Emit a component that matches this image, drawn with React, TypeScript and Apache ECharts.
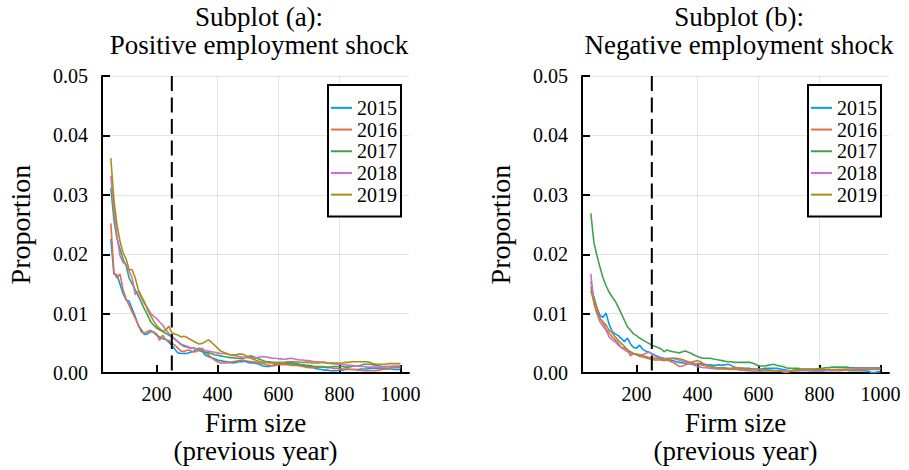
import { useEffect, useRef } from "react";
import * as echarts from "echarts";

// Firm size bins (previous-year employment)
const firmSize = [
  50, 60, 70, 80, 90, 100, 110, 120, 130, 140,
  150, 160, 170, 180, 190, 200, 210, 220, 230, 240,
  250, 260, 270, 280, 290, 300, 310, 320, 330, 340,
  350, 360, 370, 380, 390, 400, 410, 420, 430, 440,
  450, 460, 470, 480, 490, 500, 510, 520, 530, 540,
  550, 560, 570, 580, 590, 600, 610, 620, 630, 640,
  650, 660, 670, 680, 690, 700, 710, 720, 730, 740,
  750, 760, 770, 780, 790, 800, 810, 820, 830, 840,
  850, 860, 870, 880, 890, 900, 910, 920, 930, 940,
  950, 960, 970, 980, 990, 1000,
];

const years = ["2015", "2016", "2017", "2018", "2019"];

// Positive employment shock: share of firms by size
const pos2015 = [
  0.0226, 0.0167, 0.0165, 0.015, 0.0134, 0.0123, 0.0121, 0.0108, 0.0095, 0.008,
  0.0073, 0.0065, 0.0066, 0.007, 0.0069, 0.0064, 0.0061, 0.0058, 0.0057, 0.0052,
  0.0047, 0.004, 0.0034, 0.0033, 0.0033, 0.0033, 0.0035, 0.0036, 0.004, 0.0042,
  0.0037, 0.003, 0.0028, 0.0026, 0.0024, 0.0022, 0.0021, 0.002, 0.0019, 0.0018,
  0.0017, 0.0018, 0.0019, 0.0019, 0.002, 0.0018, 0.0017, 0.0017, 0.0016, 0.0014,
  0.0012, 0.0011, 0.0011, 0.0013, 0.0015, 0.0016, 0.0017, 0.0017, 0.0018, 0.0018,
  0.0017, 0.0016, 0.0014, 0.0013, 0.0012, 0.0011, 0.001, 0.0008, 0.0007, 0.0006,
  0.0005, 0.0005, 0.0004, 0.0004, 0.0004, 0.0005, 0.0005, 0.0006, 0.0006, 0.0006,
  0.0006, 0.0006, 0.0007, 0.0007, 0.0007, 0.0008, 0.0008, 0.0008, 0.0008, 0.0008,
  0.0007, 0.0007, 0.0007, 0.0006, 0.0006, 0.0006,
];
const pos2016 = [
  0.0252, 0.017, 0.016, 0.0167, 0.014, 0.0125, 0.0114, 0.0103, 0.0092, 0.0081,
  0.0069, 0.0067, 0.007, 0.0072, 0.0069, 0.0066, 0.0055, 0.0064, 0.0056, 0.0055,
  0.005, 0.0047, 0.0042, 0.0037, 0.0036, 0.0039, 0.0038, 0.0036, 0.0036, 0.0039,
  0.0042, 0.0034, 0.0031, 0.0026, 0.0022, 0.0019, 0.0017, 0.0017, 0.0017, 0.0018,
  0.0019, 0.002, 0.0021, 0.0022, 0.0021, 0.002, 0.0019, 0.0019, 0.0018, 0.0017,
  0.0016, 0.0014, 0.0013, 0.0012, 0.0013, 0.0014, 0.0014, 0.0014, 0.0014, 0.0013,
  0.0013, 0.0013, 0.0012, 0.0011, 0.001, 0.0009, 0.0009, 0.0009, 0.001, 0.001,
  0.001, 0.0009, 0.0009, 0.0008, 0.0008, 0.0008, 0.0007, 0.0007, 0.0007, 0.0006,
  0.0006, 0.0005, 0.0005, 0.0004, 0.0004, 0.0004, 0.0004, 0.0004, 0.0005, 0.0006,
  0.0007, 0.0008, 0.0009, 0.0009, 0.0009, 0.0009,
];
const pos2017 = [
  0.0312, 0.0259, 0.0226, 0.0209, 0.0192, 0.0181, 0.016, 0.015, 0.014, 0.013,
  0.0119, 0.0108, 0.0098, 0.0087, 0.0081, 0.0076, 0.0073, 0.007, 0.0067, 0.0064,
  0.0061, 0.0057, 0.0053, 0.0048, 0.0045, 0.0044, 0.0042, 0.0042, 0.0041, 0.0038,
  0.0036, 0.0035, 0.0034, 0.0033, 0.0031, 0.003, 0.0029, 0.0028, 0.0027, 0.0026,
  0.0026, 0.0025, 0.0025, 0.0025, 0.0026, 0.0028, 0.0029, 0.0027, 0.0025, 0.0023,
  0.0021, 0.0019, 0.0019, 0.0018, 0.0018, 0.0017, 0.0017, 0.0017, 0.0016, 0.0016,
  0.0015, 0.0015, 0.0014, 0.0014, 0.0013, 0.0013, 0.0012, 0.0011, 0.0011, 0.0011,
  0.001, 0.001, 0.001, 0.0011, 0.0011, 0.0011, 0.0011, 0.001, 0.001, 0.0011,
  0.0012, 0.0012, 0.0013, 0.0015, 0.0015, 0.0015, 0.0014, 0.0013, 0.0012, 0.0011,
  0.0011, 0.0011, 0.0011, 0.0011, 0.0011, 0.0011,
];
const pos2018 = [
  0.0332, 0.0276, 0.0231, 0.0198, 0.0186, 0.0183, 0.0172, 0.016, 0.0132, 0.0137,
  0.0127, 0.0117, 0.011, 0.0101, 0.0096, 0.0092, 0.0086, 0.0081, 0.0073, 0.0067,
  0.0063, 0.0057, 0.0053, 0.0049, 0.0047, 0.0045, 0.0043, 0.0042, 0.0041, 0.004,
  0.0039, 0.0038, 0.0037, 0.0036, 0.0035, 0.0034, 0.0033, 0.0033, 0.0032, 0.0031,
  0.003, 0.0029, 0.0028, 0.0027, 0.0026, 0.0026, 0.0026, 0.0025, 0.0026, 0.0027,
  0.0028, 0.0027, 0.0026, 0.0025, 0.0025, 0.0024, 0.0024, 0.0023, 0.0024, 0.0025,
  0.0024, 0.0023, 0.0022, 0.0022, 0.0021, 0.0021, 0.002, 0.0019, 0.0019, 0.0018,
  0.0018, 0.0017, 0.0016, 0.0016, 0.0015, 0.0015, 0.0014, 0.0014, 0.0013, 0.0013,
  0.0012, 0.0012, 0.0011, 0.0011, 0.001, 0.001, 0.001, 0.001, 0.0009, 0.001,
  0.001, 0.0011, 0.0011, 0.0012, 0.0012, 0.0012,
];
const pos2019 = [
  0.0362, 0.0292, 0.025, 0.0222, 0.0203, 0.0192, 0.0174, 0.0174, 0.016, 0.014,
  0.013, 0.012, 0.0107, 0.0097, 0.0088, 0.008, 0.0075, 0.0071, 0.0072, 0.0079,
  0.0068, 0.0066, 0.0064, 0.0061, 0.0062, 0.006, 0.0057, 0.0054, 0.0051, 0.0049,
  0.005, 0.0053, 0.0056, 0.0052, 0.0047, 0.0042, 0.0037, 0.0035, 0.0033, 0.0031,
  0.0031, 0.0031, 0.0032, 0.0032, 0.003, 0.0027, 0.0025, 0.0023, 0.0021, 0.0019,
  0.0018, 0.0018, 0.0017, 0.0017, 0.0017, 0.0018, 0.0018, 0.0018, 0.0019, 0.0019,
  0.0019, 0.0019, 0.0018, 0.0018, 0.0018, 0.0018, 0.0017, 0.0017, 0.0017, 0.0018,
  0.0018, 0.0017, 0.0017, 0.0017, 0.0017, 0.0017, 0.0017, 0.0018, 0.0018, 0.0019,
  0.0019, 0.0019, 0.0019, 0.0019, 0.0019, 0.0018, 0.0016, 0.0015, 0.0015, 0.0015,
  0.0015, 0.0016, 0.0016, 0.0016, 0.0016, 0.0016,
];

// Negative employment shock: share of firms by size
const neg2015 = [
  0.0145, 0.0128, 0.011, 0.0097, 0.0094, 0.0101, 0.0082, 0.007, 0.0066, 0.0063,
  0.0058, 0.0053, 0.0059, 0.0049, 0.0043, 0.0042, 0.0047, 0.004, 0.0037, 0.0035,
  0.0033, 0.003, 0.0028, 0.0026, 0.0025, 0.0023, 0.0022, 0.0021, 0.0019, 0.0018,
  0.0017, 0.0017, 0.0016, 0.0015, 0.0015, 0.0016, 0.0016, 0.0015, 0.0014, 0.0014,
  0.0013, 0.0013, 0.0014, 0.0013, 0.0014, 0.0015, 0.0013, 0.001, 0.0009, 0.0008,
  0.0008, 0.0008, 0.0008, 0.0007, 0.0007, 0.0007, 0.0007, 0.0008, 0.0008, 0.0008,
  0.0008, 0.0008, 0.0007, 0.0006, 0.0005, 0.0004, 0.0004, 0.0005, 0.0005, 0.0005,
  0.0005, 0.0005, 0.0004, 0.0004, 0.0004, 0.0004, 0.0005, 0.0005, 0.0005, 0.0005,
  0.0005, 0.0005, 0.0005, 0.0005, 0.0005, 0.0004, 0.0004, 0.0004, 0.0004, 0.0004,
  0.0004, 0.0003, 0.0001, 0.0001, 0.0002, 0.0002,
];
const neg2016 = [
  0.0154, 0.0125, 0.0109, 0.0092, 0.0084, 0.0074, 0.0067, 0.0061, 0.0056, 0.005,
  0.0043, 0.0042, 0.004, 0.0029, 0.0033, 0.0031, 0.0028, 0.0027, 0.0026, 0.0024,
  0.0023, 0.0022, 0.0022, 0.0022, 0.0021, 0.0022, 0.002, 0.0018, 0.0015, 0.0011,
  0.0012, 0.0014, 0.0016, 0.0018, 0.002, 0.0021, 0.0019, 0.0016, 0.0013, 0.0011,
  0.001, 0.0009, 0.0009, 0.0009, 0.0009, 0.0008, 0.0008, 0.0009, 0.0009, 0.0009,
  0.0008, 0.0007, 0.0007, 0.0006, 0.0006, 0.0006, 0.0005, 0.0005, 0.0004, 0.0004,
  0.0004, 0.0004, 0.0004, 0.0004, 0.0004, 0.0004, 0.0004, 0.0004, 0.0004, 0.0005,
  0.0005, 0.0005, 0.0006, 0.0006, 0.0006, 0.0006, 0.0006, 0.0005, 0.0005, 0.0004,
  0.0004, 0.0004, 0.0004, 0.0005, 0.0005, 0.0006, 0.0006, 0.0005, 0.0005, 0.0006,
  0.0006, 0.0007, 0.0007, 0.0007, 0.0007, 0.0007,
];
const neg2017 = [
  0.0269, 0.022, 0.0198, 0.0178, 0.016, 0.0147, 0.0136, 0.0128, 0.0121, 0.0111,
  0.01, 0.0089, 0.0078, 0.0072, 0.0066, 0.0063, 0.0059, 0.0056, 0.0053, 0.005,
  0.0047, 0.0045, 0.0043, 0.0041, 0.0036, 0.0039, 0.0037, 0.0036, 0.0035, 0.0034,
  0.0036, 0.0037, 0.0035, 0.0033, 0.003, 0.0028, 0.0026, 0.0025, 0.0025, 0.0025,
  0.0024, 0.0023, 0.0022, 0.0021, 0.002, 0.0019, 0.0019, 0.0018, 0.0018, 0.0018,
  0.0018, 0.0018, 0.0018, 0.0017, 0.0015, 0.0012, 0.0012, 0.0012, 0.0013, 0.0014,
  0.0015, 0.0013, 0.0012, 0.0011, 0.0009, 0.0008, 0.0008, 0.0008, 0.0008, 0.0007,
  0.0007, 0.0007, 0.0007, 0.0007, 0.0007, 0.0008, 0.0008, 0.0009, 0.0009, 0.001,
  0.001, 0.001, 0.001, 0.001, 0.001, 0.0009, 0.0009, 0.0009, 0.0009, 0.0009,
  0.0009, 0.0009, 0.0009, 0.0009, 0.0009, 0.0009,
];
const neg2018 = [
  0.0167, 0.0117, 0.01, 0.0086, 0.0079, 0.0072, 0.0061, 0.0056, 0.0053, 0.0047,
  0.0043, 0.0039, 0.0036, 0.0034, 0.0032, 0.0031, 0.0031, 0.0031, 0.0033, 0.0036,
  0.0032, 0.0029, 0.0026, 0.0025, 0.0024, 0.0025, 0.0025, 0.0025, 0.0023, 0.0022,
  0.002, 0.0019, 0.0017, 0.0015, 0.0013, 0.0011, 0.001, 0.0009, 0.0009, 0.0008,
  0.0008, 0.0007, 0.0007, 0.0007, 0.0007, 0.0006, 0.0006, 0.0006, 0.0006, 0.0005,
  0.0005, 0.0004, 0.0004, 0.0003, 0.0003, 0.0003, 0.0003, 0.0004, 0.0004, 0.0004,
  0.0004, 0.0004, 0.0004, 0.0004, 0.0004, 0.0004, 0.0004, 0.0004, 0.0004, 0.0004,
  0.0004, 0.0004, 0.0004, 0.0003, 0.0003, 0.0003, 0.0003, 0.0004, 0.0004, 0.0005,
  0.0005, 0.0006, 0.0006, 0.0007, 0.0007, 0.0007, 0.0007, 0.0008, 0.0008, 0.0008,
  0.0008, 0.0008, 0.0008, 0.0008, 0.0008, 0.0008,
];
const neg2019 = [
  0.0139, 0.012, 0.0103, 0.0092, 0.0086, 0.0081, 0.0072, 0.0068, 0.0061, 0.0055,
  0.005, 0.0045, 0.0039, 0.0036, 0.0033, 0.0032, 0.0031, 0.0029, 0.0028, 0.0026,
  0.0026, 0.0025, 0.0024, 0.0023, 0.0022, 0.0023, 0.0024, 0.0025, 0.0025, 0.0024,
  0.0023, 0.0021, 0.0019, 0.0018, 0.0016, 0.0015, 0.0014, 0.0013, 0.0012, 0.0011,
  0.001, 0.0009, 0.0008, 0.0008, 0.0008, 0.0007, 0.0007, 0.0007, 0.0007, 0.0007,
  0.0007, 0.0006, 0.0006, 0.0006, 0.0006, 0.0006, 0.0006, 0.0006, 0.0005, 0.0005,
  0.0004, 0.0004, 0.0003, 0.0002, 0.0001, 0.0002, 0.0004, 0.0005, 0.0005, 0.0006,
  0.0006, 0.0006, 0.0006, 0.0006, 0.0006, 0.0006, 0.0006, 0.0006, 0.0006, 0.0006,
  0.0006, 0.0006, 0.0006, 0.0005, 0.0005, 0.0005, 0.0005, 0.0006, 0.0006, 0.0006,
  0.0006, 0.0006, 0.0006, 0.0006, 0.0006, 0.0006,
];

const positiveShock = [pos2015, pos2016, pos2017, pos2018, pos2019];
const negativeShock = [neg2015, neg2016, neg2017, neg2018, neg2019];

const xTicks = [200, 400, 600, 800, 1000];
const sizeThreshold = 250;

const palette = ["#009AFA", "#E26F46", "#3DA44D", "#C371D2", "#AC8D18"];
const FONT = '"Liberation Serif", "Times New Roman", serif';

const panels = [
  { title: ["Subplot (a):", "Positive employment shock"], values: positiveShock, left: 102 },
  { title: ["Subplot (b):", "Negative employment shock"], values: negativeShock, left: 582 },
];

const GRID_TOP = 76;
const GRID_W = 307;
const GRID_H = 299;

function buildOption(): echarts.EChartsOption {
  const grid = panels.map((p) => ({ left: p.left, top: GRID_TOP, width: GRID_W, height: GRID_H }));

  const xAxis = panels.map((_, i) => ({
    type: "value" as const,
    gridIndex: i,
    min: 21,
    max: 1028,
    name: "Firm size\n(previous year)",
    nameLocation: "middle" as const,
    nameGap: 32,
    nameTextStyle: { fontFamily: FONT, fontSize: 27, lineHeight: 28, color: "#000" },
    axisLine: { show: true, onZero: false, lineStyle: { color: "#000", width: 2 } },
    axisTick: { show: true, inside: true, length: 8, customValues: xTicks, lineStyle: { color: "#000", width: 2 } },
    axisLabel: {
      customValues: xTicks,
      fontFamily: FONT,
      fontSize: 20,
      color: "#000",
      margin: 11,
      formatter: (v: number) => String(v),
    },
    splitLine: { show: true, showMinLine: false, showMaxLine: false, lineStyle: { color: "rgba(0,0,0,0.1)", width: 1 } },
  }));

  const yAxis = panels.map((_, i) => ({
    type: "value" as const,
    gridIndex: i,
    min: 0,
    max: 0.05,
    interval: 0.01,
    name: "Proportion",
    nameLocation: "middle" as const,
    nameGap: 67,
    nameTextStyle: { fontFamily: FONT, fontSize: 28, lineHeight: 30, color: "#000" },
    axisLine: { show: true, onZero: false, lineStyle: { color: "#000", width: 2 } },
    axisTick: { show: true, inside: true, length: 8, lineStyle: { color: "#000", width: 2 } },
    axisLabel: {
      fontFamily: FONT,
      fontSize: 20,
      color: "#000",
      margin: 14,
      formatter: (v: number) => v.toFixed(2),
    },
    splitLine: { show: true, lineStyle: { color: "rgba(0,0,0,0.1)", width: 1 } },
  }));

  const series: any[] = [];
  panels.forEach((p, pi) => {
    years.forEach((yr, yi) => {
      series.push({
        type: "line",
        name: yr,
        xAxisIndex: pi,
        yAxisIndex: pi,
        data: firmSize.map((x, k) => [x, p.values[yi][k]]),
        showSymbol: false,
        symbol: "none",
        color: palette[yi],
        lineStyle: { color: palette[yi], width: 1.6 },
        z: 2,
      });
    });
    series.push({
      type: "line",
      name: "threshold",
      xAxisIndex: pi,
      yAxisIndex: pi,
      data: [
        [sizeThreshold, 0.05],
        [sizeThreshold, 0],
      ],
      showSymbol: false,
      symbol: "none",
      silent: true,
      lineStyle: { color: "#000", width: 2, type: [15, 6.5] },
      z: 4,
    });
  });

  const legend = panels.map((p) => ({
    data: years,
    orient: "vertical" as const,
    left: p.left + 226,
    top: 85,
    backgroundColor: "#fff",
    borderColor: "#000",
    borderWidth: 2,
    borderRadius: 0,
    padding: [12, 4, 11, 3],
    itemGap: 0,
    itemWidth: 21,
    itemHeight: 2,
    icon: "rect",
    itemTextGap: 3,
    textStyle: { fontFamily: FONT, fontSize: 20, color: "#000", lineHeight: 21.7 },
    z: 10,
  }));

  const graphic: any[] = [];
  panels.forEach((p) => {
    p.title.forEach((line, li) => {
      graphic.push({
        type: "text",
        x: p.left + 157,
        y: 3 + li * 28,
        style: {
          text: line,
          fontFamily: FONT,
          fontSize: 27,
          lineHeight: 27,
          fill: "#000",
          align: "center",
          verticalAlign: "top",
        },
      });
    });
  });

  return {
    animation: false,
    backgroundColor: "#fff",
    textStyle: { fontFamily: FONT },
    grid,
    xAxis,
    yAxis,
    legend,
    graphic,
    series,
  } as echarts.EChartsOption;
}

export default function App() {
  const ref = useRef<HTMLDivElement>(null);

  useEffect(() => {
    if (!ref.current) return;
    const chart = echarts.init(ref.current, undefined, { renderer: "svg" });
    chart.setOption(buildOption());
    return () => chart.dispose();
  }, []);

  return (
    <div
      ref={ref}
      style={{ position: "fixed", left: 0, top: 0, width: 909, height: 470, background: "#fff" }}
    />
  );
}
